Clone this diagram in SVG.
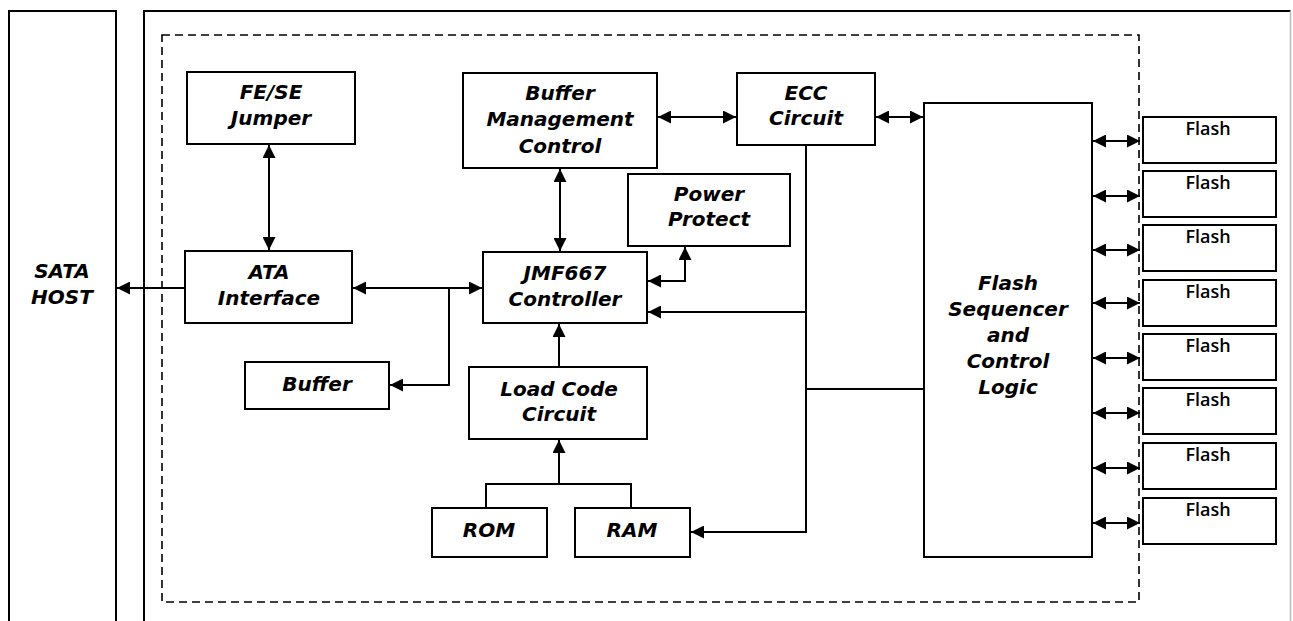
<svg xmlns="http://www.w3.org/2000/svg" width="1293" height="621" viewBox="0 0 1293 621">
  <defs>
    <marker id="ah" markerUnits="userSpaceOnUse" markerWidth="13" markerHeight="13" refX="13" refY="6.5" orient="auto-start-reverse" viewBox="0 0 13 13">
      <path d="M0,0 L13,6.5 L0,13 z" fill="#000"/>
    </marker>
    <style>
      .box { fill: #fff; stroke: #000; stroke-width: 2; }
      .frame { fill: none; stroke: #000; stroke-width: 2; }
      .dash { fill: none; stroke: #000; stroke-width: 1.6; stroke-dasharray: 8 5; }
      .lbl { font-family: "DejaVu Sans", "Liberation Sans", sans-serif; font-weight: bold; font-style: italic; font-size: 20px; text-anchor: middle; fill: #000; }
      .fl { font-family: "Open Sans", "Liberation Sans", sans-serif; font-weight: 600; font-size: 18px; text-anchor: middle; fill: #000; }
      .c { fill: none; stroke: #000; stroke-width: 2; }
      .a1 { marker-end: url(#ah); }
      .a2 { marker-start: url(#ah); marker-end: url(#ah); }
    </style>
  </defs>
  <rect width="1293" height="621" fill="#fff"/>

  <!-- frames -->
  <g id="host-frame">
    <path class="frame" d="M9,630 V11 H116 V630"/>
    <text class="lbl" x="62" y="278">SATA</text>
    <text class="lbl" x="62" y="304">HOST</text>
  </g>
  <g id="drive-frame">
    <path class="frame" d="M144,630 V11 H1290.5"/>
    <path d="M1290.5,11 V630" stroke="#bbb" stroke-width="1.5" fill="none"/>
    <rect class="dash" x="162" y="35" width="977" height="567"/>
  </g>

  <g id="connectors">
    <path class="c a2" d="M269,145 V250"/>
    <path class="c a1" d="M185,288 H117"/>
    <path class="c a2" d="M353,288 H482"/>
    <path class="c a1" d="M449,288 V385 H390"/>
    <path class="c a2" d="M560,169 V251"/>
    <path class="c a2" d="M658,117 H736"/>
    <path class="c a2" d="M876,117 H923"/>
    <path class="c a2" d="M648,281 H685 V247"/>
    <path class="c a1" d="M806,145 V532 H691"/>
    <path class="c a1" d="M806,312 H648"/>
    <path class="c" d="M806,389 H924"/>
    <path class="c a1" d="M559,367 V324"/>
    <path class="c" d="M486,508 V484 H631 V508"/>
    <path class="c a1" d="M559,484 V440"/>
    <path class="c a2" d="M1093,141 H1140"/>
    <path class="c a2" d="M1093,196 H1140"/>
    <path class="c a2" d="M1093,250 H1140"/>
    <path class="c a2" d="M1093,303 H1140"/>
    <path class="c a2" d="M1093,358 H1140"/>
    <path class="c a2" d="M1093,413 H1140"/>
    <path class="c a2" d="M1093,468 H1140"/>
    <path class="c a2" d="M1093,523 H1140"/>
  </g>

  <g id="fese">
    <rect class="box" x="187" y="72" width="168" height="72"/>
    <text class="lbl" x="271" y="99">FE/SE</text>
    <text class="lbl" x="271" y="125">Jumper</text>
  </g>
  <g id="ata">
    <rect class="box" x="185" y="251" width="167" height="72"/>
    <text class="lbl" x="269" y="279">ATA</text>
    <text class="lbl" x="269" y="305">Interface</text>
  </g>
  <g id="buffer">
    <rect class="box" x="245" y="362" width="144" height="47"/>
    <text class="lbl" x="317" y="391">Buffer</text>
  </g>
  <g id="bmc">
    <rect class="box" x="463" y="73" width="194" height="95"/>
    <text class="lbl" x="560" y="100">Buffer</text>
    <text class="lbl" x="560" y="126">Management</text>
    <text class="lbl" x="560" y="153">Control</text>
  </g>
  <g id="ecc">
    <rect class="box" x="737" y="73" width="138" height="72"/>
    <text class="lbl" x="806" y="100">ECC</text>
    <text class="lbl" x="806" y="125">Circuit</text>
  </g>
  <g id="power">
    <rect class="box" x="628" y="174" width="162" height="72"/>
    <text class="lbl" x="709" y="201">Power</text>
    <text class="lbl" x="709" y="226">Protect</text>
  </g>
  <g id="jmf">
    <rect class="box" x="483" y="252" width="164" height="71"/>
    <text class="lbl" x="565" y="280">JMF667</text>
    <text class="lbl" x="565" y="306">Controller</text>
  </g>
  <g id="loadcode">
    <rect class="box" x="469" y="367" width="178" height="72"/>
    <text class="lbl" x="559" y="396">Load Code</text>
    <text class="lbl" x="559" y="421">Circuit</text>
  </g>
  <g id="rom">
    <rect class="box" x="432" y="508" width="115" height="49"/>
    <text class="lbl" x="489" y="537">ROM</text>
  </g>
  <g id="ram">
    <rect class="box" x="575" y="508" width="115" height="49"/>
    <text class="lbl" x="632" y="537">RAM</text>
  </g>
  <g id="flashseq">
    <rect class="box" x="924" y="103" width="168" height="454"/>
    <text class="lbl" x="1008" y="290">Flash</text>
    <text class="lbl" x="1008" y="316">Sequencer</text>
    <text class="lbl" x="1008" y="342">and</text>
    <text class="lbl" x="1008" y="368">Control</text>
    <text class="lbl" x="1008" y="394">Logic</text>
  </g>
  <g id="flash1"><rect class="box" x="1143" y="117" width="133" height="46"/><text class="fl" x="1208" y="135">Flash</text></g>
  <g id="flash2"><rect class="box" x="1143" y="171" width="133" height="46"/><text class="fl" x="1208" y="189">Flash</text></g>
  <g id="flash3"><rect class="box" x="1143" y="225" width="133" height="46"/><text class="fl" x="1208" y="243">Flash</text></g>
  <g id="flash4"><rect class="box" x="1143" y="280" width="133" height="46"/><text class="fl" x="1208" y="298">Flash</text></g>
  <g id="flash5"><rect class="box" x="1143" y="334" width="133" height="46"/><text class="fl" x="1208" y="352">Flash</text></g>
  <g id="flash6"><rect class="box" x="1143" y="388" width="133" height="46"/><text class="fl" x="1208" y="406">Flash</text></g>
  <g id="flash7"><rect class="box" x="1143" y="443" width="133" height="46"/><text class="fl" x="1208" y="461">Flash</text></g>
  <g id="flash8"><rect class="box" x="1143" y="498" width="133" height="46"/><text class="fl" x="1208" y="516">Flash</text></g>
</svg>
